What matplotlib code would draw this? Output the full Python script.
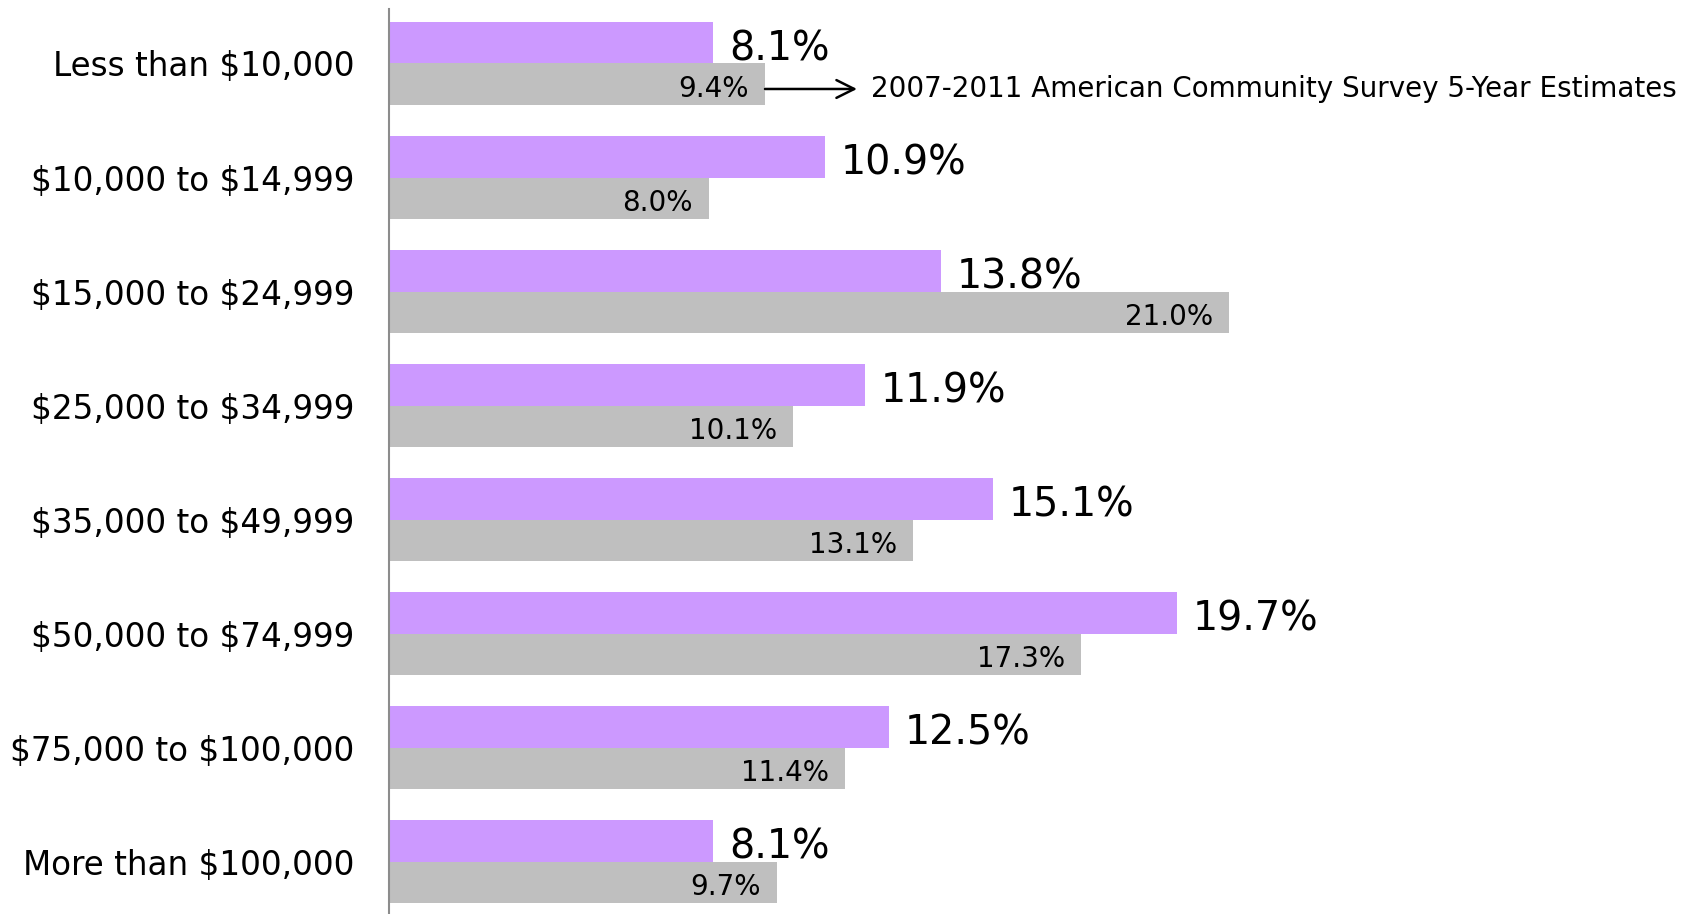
import matplotlib.pyplot as plt
import numpy as np

# income brackets and shares (%)
categories = ['Less than $10,000', '$10,000 to $14,999', '$15,000 to $24,999',
              '$25,000 to $34,999', '$35,000 to $49,999', '$50,000 to $74,999',
              '$75,000 to $100,000', 'More than $100,000']
local_pct = [8.1, 10.9, 13.8, 11.9, 15.1, 19.7, 12.5, 8.1]
acs_pct = [9.4, 8.0, 21.0, 10.1, 13.1, 17.3, 11.4, 9.7]
note = '2007-2011 American Community Survey 5-Year Estimates'

plt.rcParams['font.family'] = ['DejaVu Sans']
plt.rcParams['text.parse_math'] = False  # keep the $ signs literal

fig = plt.figure(figsize=(17.02, 9.14), dpi=100)
ax = fig.add_axes([389 / 1702, 0, 1 - 389 / 1702, 905 / 914])

y = np.arange(len(categories))
h = 0.367
ax.barh(y - h / 2, local_pct, height=h, color='#CC99FF')
ax.barh(y + h / 2, acs_pct, height=h, color='#BFBFBF')

for i, (a, b) in enumerate(zip(local_pct, acs_pct)):
    ax.text(a + 0.4, i - h / 2 + 0.06, '{0:.1f}%'.format(a), fontsize=28.5,
            va='center', ha='left')
    ax.text(b - 0.4, i + h / 2 + 0.04, '{0:.1f}%'.format(b), fontsize=20,
            va='center', ha='right')

# arrow pointing to the data source note
ya = h / 2 + 0.04
ax.annotate('', xy=(acs_pct[0] + 2.3, ya), xytext=(acs_pct[0], ya),
            arrowprops=dict(arrowstyle='->', lw=1.8, color='black',
                            shrinkA=0, shrinkB=0, mutation_scale=32))
ax.text(acs_pct[0] + 2.65, ya, note, fontsize=20, va='center', ha='left')

ax.set_xlim(0, 1313 / 40)
ax.set_ylim(7.46, -0.478)
ax.set_yticks(y)
ax.set_yticklabels(categories, fontsize=23.5)
ax.tick_params(axis='y', length=0, pad=25)
ax.set_xticks([])
for s in ['top', 'right', 'bottom']:
    ax.spines[s].set_visible(False)
ax.spines['left'].set_color('#8c8c8c')
ax.spines['left'].set_linewidth(1.5)

plt.savefig('out.png', dpi=100)
